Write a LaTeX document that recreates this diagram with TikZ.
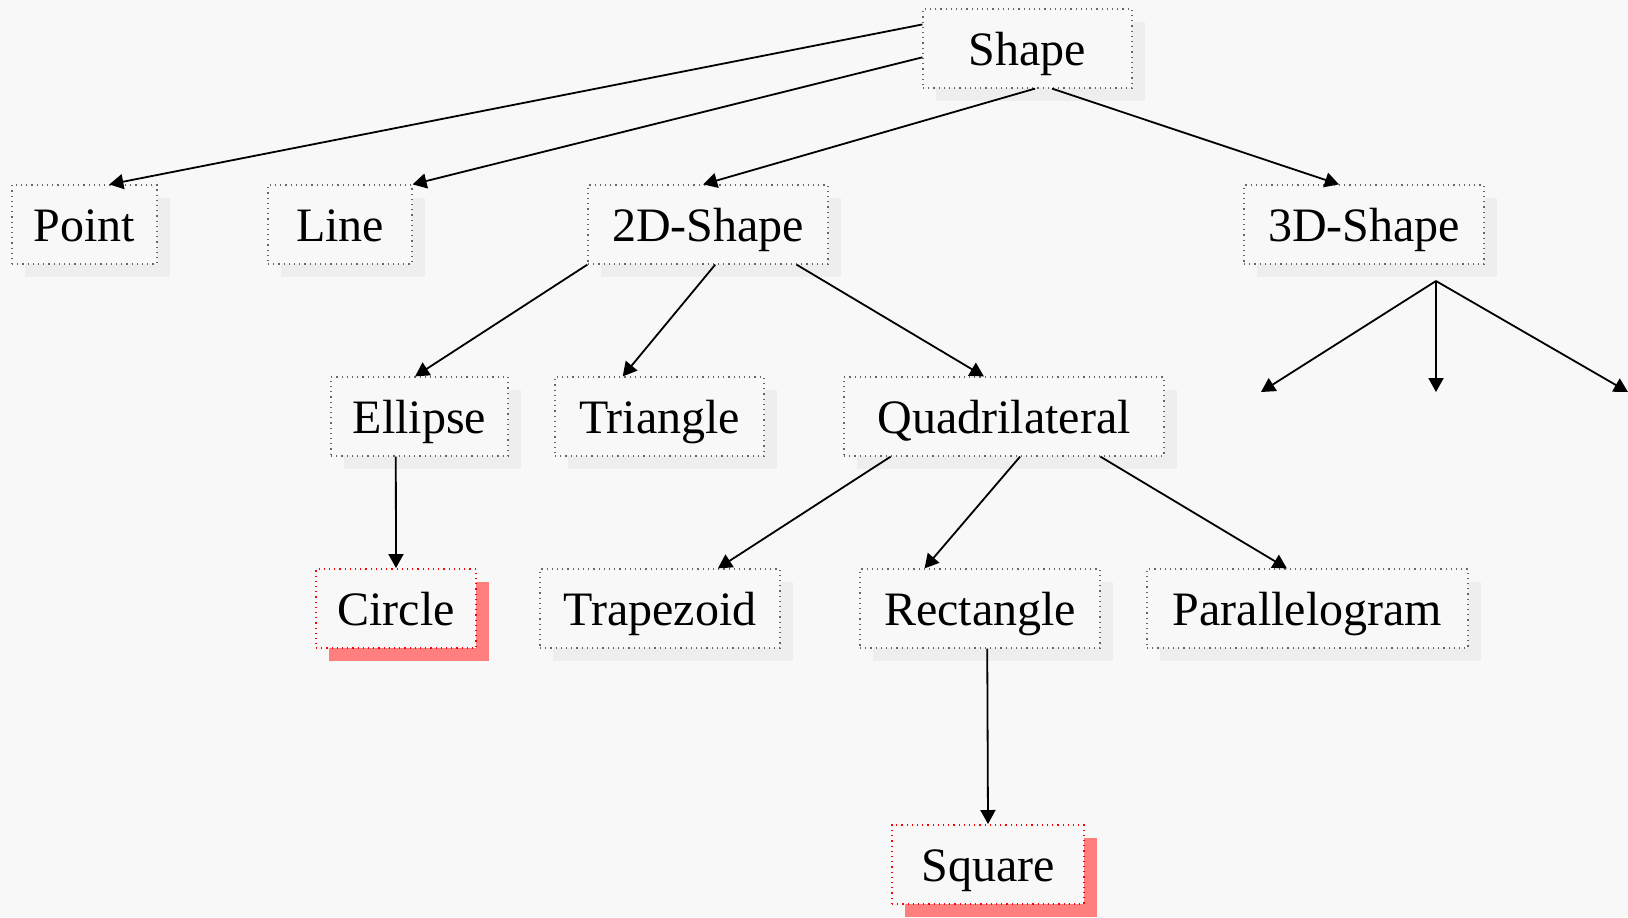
\documentclass[tikz,border=0pt]{standalone}
\usepackage{fontspec}
\setmainfont{Liberation Serif}
\usetikzlibrary{calc,shadows,arrows.meta}
\definecolor{bgcol}{HTML}{F8F8F8}
\definecolor{shgray}{HTML}{EEEEEE}
\definecolor{shred}{HTML}{FF7F7F}
\definecolor{edgegray}{HTML}{666666}
\begin{document}
\begin{tikzpicture}[x=0.5pt,y=-0.5pt,
  box/.style={draw=edgegray, line width=0.6pt, dotted, fill=bgcol,
    minimum height=39.5pt, inner sep=0pt, text height=18pt, text depth=1pt,
    font=\fontsize{24}{28}\selectfont,
    drop shadow={shadow xshift=6.5pt, shadow yshift=-6.5pt, fill=shgray, opacity=1, draw=none}},
  hbox/.style={box, draw=red, line width=1pt,
    drop shadow={shadow xshift=6.5pt, shadow yshift=-6.5pt, fill=shred, opacity=1, draw=none}},
  link/.style={line width=0.9pt, -{Triangle[length=7pt,width=7.5pt]}}]
\fill[bgcol] (0,0) rectangle (1628,917);
\useasboundingbox (0,0) rectangle (1628,917);

% tree of shapes
\node[box, minimum width=104.5pt] (shape) at (1027.5,48.5) {Shape};
\node[box, minimum width=72.5pt] (point) at (84.5,224.5) {Point};
\node[box, minimum width=72pt] (line) at (340,224.5) {Line};
\node[box, minimum width=120pt] (twod) at (708,224.5) {2D-Shape};
\node[box, minimum width=120pt] (threed) at (1364,224.5) {3D-Shape};
\node[box, minimum width=88.5pt] (ellipse) at (419.5,416.5) {Ellipse};
\node[box, minimum width=104.5pt] (triangle) at (659.5,416.5) {Triangle};
\node[box, minimum width=160pt] (quad) at (1004,416.5) {Quadrilateral};
\node[hbox, minimum width=80pt] (circle) at (396,608.5) {Circle};
\node[box, minimum width=120pt] (trapezoid) at (660,608.5) {Trapezoid};
\node[box, minimum width=120pt] (rectangle) at (980,608.5) {Rectangle};
\node[box, minimum width=160.5pt] (para) at (1307.5,608.5) {Parallelogram};
\node[hbox, minimum width=96pt] (square) at (988,864.5) {Square};

% edges
\draw[link] ($(shape.north west)!0.2!(shape.south west)$) -- ($(point.north west)!0.67!(point.north east)$);
\draw[link] ($(shape.north west)!0.61!(shape.south west)$) -- (line.north east);
\draw[link] ($(shape.south west)!0.536!(shape.south east)$) -- ($(twod.north west)!0.48!(twod.north east)$);
\draw[link] ($(shape.south west)!0.617!(shape.south east)$) -- ($(threed.north west)!0.396!(threed.north east)$);

\draw[link] (twod.south west) -- ($(ellipse.north west)!0.475!(ellipse.north east)$);
\draw[link] ($(twod.south west)!0.53!(twod.south east)$) -- ($(triangle.north west)!0.325!(triangle.north east)$);
\draw[link] ($(twod.south west)!0.867!(twod.south east)$) -- ($(quad.north west)!0.4375!(quad.north east)$);

\draw[link] ($(ellipse.south west)!0.367!(ellipse.south east)$) -- (circle.north);

\draw[link] ($(quad.south west)!0.147!(quad.south east)$) -- ($(trapezoid.north west)!0.74!(trapezoid.north east)$);
\draw[link] ($(quad.south west)!0.55!(quad.south east)$) -- ($(rectangle.north west)!0.27!(rectangle.north east)$);
\draw[link] ($(quad.south west)!0.8!(quad.south east)$) -- ($(para.north west)!0.436!(para.north east)$);

\draw[link] ($(rectangle.south west)!0.53!(rectangle.south east)$) -- (square.north);

% fan below 3D-Shape
\coordinate (fork) at (1436,281);
\coordinate (solidA) at (1261,392);
\coordinate (solidB) at (1436,392);
\coordinate (solidC) at (1628,392);
\draw[link] (fork) -- (solidA);
\draw[link] (fork) -- (solidB);
\draw[link] (fork) -- (solidC);
\end{tikzpicture}
\end{document}
